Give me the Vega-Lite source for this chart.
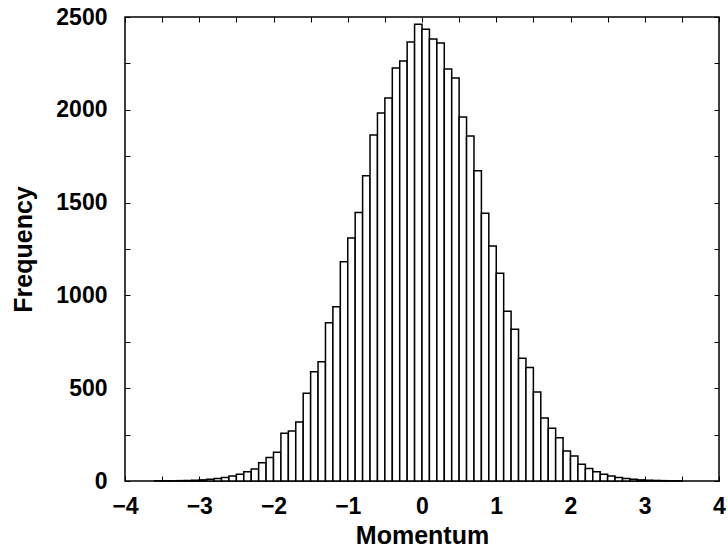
{
  "$schema": "https://vega.github.io/schema/vega-lite/v6.json",
  "width": 594,
  "height": 464,
  "autosize": {"type": "none"},
  "padding": {"left": 125, "top": 17, "right": 9, "bottom": 74},
  "background": "white",
  "config": {
    "view": {"stroke": "black", "strokeWidth": 1.5},
    "font": "Liberation Sans",
    "axis": {
      "domain": false,
      "grid": false,
      "ticks": true,
      "tickColor": "black",
      "tickSize": -5,
      "tickWidth": 1,
      "labelFont": "Liberation Sans",
      "labelFontWeight": "bold",
      "labelFontSize": 23,
      "labelColor": "black",
      "titleFont": "Liberation Sans",
      "titleFontWeight": "bold",
      "titleFontSize": 25,
      "titleColor": "black"
    }
  },
  "data": {
    "values": [
      {"lo": -3.6, "hi": -3.5, "count": 1},
      {"lo": -3.5, "hi": -3.4, "count": 1},
      {"lo": -3.4, "hi": -3.3, "count": 1},
      {"lo": -3.3, "hi": -3.2, "count": 2},
      {"lo": -3.2, "hi": -3.1, "count": 3},
      {"lo": -3.1, "hi": -3.0, "count": 4},
      {"lo": -3.0, "hi": -2.9, "count": 6},
      {"lo": -2.9, "hi": -2.8, "count": 9},
      {"lo": -2.8, "hi": -2.7, "count": 13},
      {"lo": -2.7, "hi": -2.6, "count": 19},
      {"lo": -2.6, "hi": -2.5, "count": 27},
      {"lo": -2.5, "hi": -2.4, "count": 37},
      {"lo": -2.4, "hi": -2.3, "count": 50},
      {"lo": -2.3, "hi": -2.2, "count": 65},
      {"lo": -2.2, "hi": -2.1, "count": 99},
      {"lo": -2.1, "hi": -2.0, "count": 126},
      {"lo": -2.0, "hi": -1.9, "count": 155},
      {"lo": -1.9, "hi": -1.8, "count": 257},
      {"lo": -1.8, "hi": -1.7, "count": 270},
      {"lo": -1.7, "hi": -1.6, "count": 318},
      {"lo": -1.6, "hi": -1.5, "count": 473},
      {"lo": -1.5, "hi": -1.4, "count": 589},
      {"lo": -1.4, "hi": -1.3, "count": 643},
      {"lo": -1.3, "hi": -1.2, "count": 852},
      {"lo": -1.2, "hi": -1.1, "count": 939},
      {"lo": -1.1, "hi": -1.0, "count": 1181},
      {"lo": -1.0, "hi": -0.9, "count": 1309},
      {"lo": -0.9, "hi": -0.8, "count": 1446},
      {"lo": -0.8, "hi": -0.7, "count": 1645},
      {"lo": -0.7, "hi": -0.6, "count": 1864},
      {"lo": -0.6, "hi": -0.5, "count": 1983},
      {"lo": -0.5, "hi": -0.4, "count": 2064},
      {"lo": -0.4, "hi": -0.3, "count": 2225},
      {"lo": -0.3, "hi": -0.2, "count": 2263},
      {"lo": -0.2, "hi": -0.1, "count": 2365},
      {"lo": -0.1, "hi": 0.0, "count": 2461},
      {"lo": 0.0, "hi": 0.1, "count": 2434},
      {"lo": 0.1, "hi": 0.2, "count": 2382},
      {"lo": 0.2, "hi": 0.3, "count": 2360},
      {"lo": 0.3, "hi": 0.4, "count": 2220},
      {"lo": 0.4, "hi": 0.5, "count": 2171},
      {"lo": 0.5, "hi": 0.6, "count": 1961},
      {"lo": 0.6, "hi": 0.7, "count": 1859},
      {"lo": 0.7, "hi": 0.8, "count": 1672},
      {"lo": 0.8, "hi": 0.9, "count": 1442},
      {"lo": 0.9, "hi": 1.0, "count": 1266},
      {"lo": 1.0, "hi": 1.1, "count": 1119},
      {"lo": 1.1, "hi": 1.2, "count": 915},
      {"lo": 1.2, "hi": 1.3, "count": 817},
      {"lo": 1.3, "hi": 1.4, "count": 662},
      {"lo": 1.4, "hi": 1.5, "count": 611},
      {"lo": 1.5, "hi": 1.6, "count": 480},
      {"lo": 1.6, "hi": 1.7, "count": 340},
      {"lo": 1.7, "hi": 1.8, "count": 284},
      {"lo": 1.8, "hi": 1.9, "count": 233},
      {"lo": 1.9, "hi": 2.0, "count": 162},
      {"lo": 2.0, "hi": 2.1, "count": 135},
      {"lo": 2.1, "hi": 2.2, "count": 90},
      {"lo": 2.2, "hi": 2.3, "count": 68},
      {"lo": 2.3, "hi": 2.4, "count": 50},
      {"lo": 2.4, "hi": 2.5, "count": 37},
      {"lo": 2.5, "hi": 2.6, "count": 27},
      {"lo": 2.6, "hi": 2.7, "count": 19},
      {"lo": 2.7, "hi": 2.8, "count": 13},
      {"lo": 2.8, "hi": 2.9, "count": 9},
      {"lo": 2.9, "hi": 3.0, "count": 6},
      {"lo": 3.0, "hi": 3.1, "count": 4},
      {"lo": 3.1, "hi": 3.2, "count": 3},
      {"lo": 3.2, "hi": 3.3, "count": 2},
      {"lo": 3.3, "hi": 3.4, "count": 1},
      {"lo": 3.4, "hi": 3.5, "count": 1}
    ]
  },
  "layer": [
    {
      "mark": {"type": "bar", "fill": "white", "stroke": "black", "strokeWidth": 1.5},
      "encoding": {
        "x": {
          "field": "lo", "type": "quantitative",
          "scale": {"domain": [-4, 4], "nice": false, "zero": false},
          "axis": {
            "orient": "bottom", "title": "Momentum", "titlePadding": 5,
            "values": [-4, -3.5, -3, -2.5, -2, -1.5, -1, -0.5, 0, 0.5, 1, 1.5, 2, 2.5, 3, 3.5, 4],
            "labelExpr": "datum.value % 1 === 0 ? format(datum.value, 'd') : ''",
            "labelPadding": 19, "labelFlush": false, "labelOverlap": false
          }
        },
        "x2": {"field": "hi"},
        "y": {
          "field": "count", "type": "quantitative",
          "scale": {"domain": [0, 2500], "nice": false},
          "axis": {
            "orient": "left", "title": "Frequency", "titlePadding": 19,
            "values": [0, 250, 500, 750, 1000, 1250, 1500, 1750, 2000, 2250, 2500],
            "labelExpr": "datum.value % 500 === 0 ? format(datum.value, 'd') : ''",
            "labelPadding": 23, "labelFlush": false, "labelOverlap": false
          }
        },
        "y2": {"datum": 0}
      }
    },
    {
      "mark": {"type": "point", "opacity": 0},
      "encoding": {
        "x": {
          "field": "lo", "type": "quantitative",
          "axis": {
            "orient": "top", "title": null, "labels": false,
            "values": [-4, -3.5, -3, -2.5, -2, -1.5, -1, -0.5, 0, 0.5, 1, 1.5, 2, 2.5, 3, 3.5, 4]
          }
        },
        "y": {
          "field": "count", "type": "quantitative",
          "axis": {
            "orient": "right", "title": null, "labels": false,
            "values": [0, 250, 500, 750, 1000, 1250, 1500, 1750, 2000, 2250, 2500]
          }
        }
      }
    }
  ],
  "resolve": {"axis": {"x": "independent", "y": "independent"}}
}
